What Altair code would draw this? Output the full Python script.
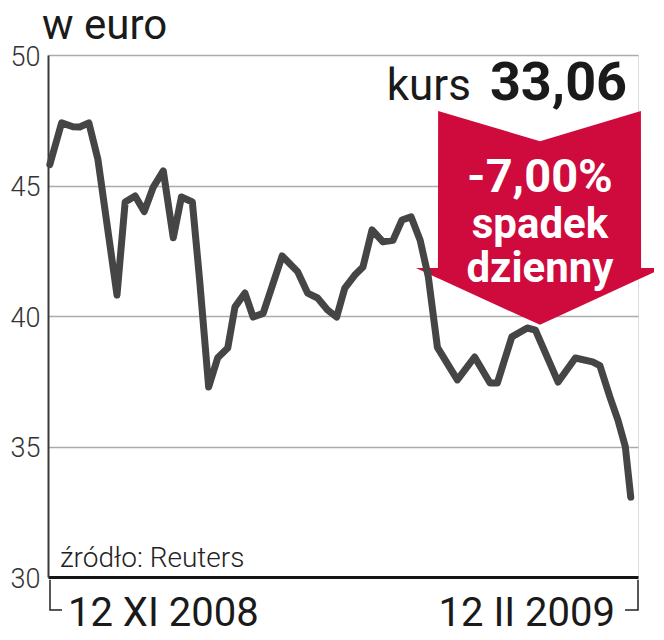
import altair as alt
import pandas as pd

# ---- data ----
sesja = [0.2, 1.5, 2.75, 3.5, 4.5, 5.5, 7.6, 8.5, 9.6, 10.6, 11.6, 12.7, 13.8, 14.7,
         15.9, 16.7, 17.7, 18.7, 19.8, 20.6, 21.7, 22.6, 23.7, 25.8, 27.5, 28.6, 29.7,
         30.8, 31.8, 32.7, 33.8, 34.7, 35.7, 36.9, 38.0, 39.0, 40.0, 41.0, 41.9, 42.9,
         45.1, 47.0, 48.7, 49.5, 51.1, 52.8, 53.7, 56.2, 58.1, 60.0, 60.8, 61.9, 62.8,
         63.6, 64.2]
kurs = [45.8, 47.4, 47.25, 47.24, 47.4, 46.0, 40.8, 44.37, 44.6, 44.0, 44.94, 45.56,
        43.0, 44.56, 44.37, 41.4, 37.28, 38.4, 38.77, 40.35, 40.88, 39.96, 40.1, 42.3,
        41.7, 40.88, 40.69, 40.23, 39.96, 41.07, 41.57, 41.88, 43.3, 42.84, 42.9, 43.68,
        43.8, 42.9, 41.5, 38.8, 37.55, 38.43, 37.43, 37.43, 39.2, 39.54, 39.46, 37.47,
        38.39, 38.24, 38.1, 36.9, 36.0, 35.0, 33.06]

y_domain = [30, 50]

# arrow outline (in chart units)
arrow_x = [40.54, 42.96, 42.98, 54.2, 65.32, 65.34, 67.75]
arrow_top = [41.84, 41.84, 47.85, 46.70, 47.85, 41.84, 41.84]
arrow_bot = [41.84, 41.45, 41.45, 39.66, 41.45, 41.45, 41.84]

# brackets under the time axis
br_id = ["l", "l", "l", "r", "r", "r"]
br_x = [0.22, 0.22, 1.54, 65.0, 65.0, 63.57]
br_y = [29.89, 28.74, 28.74, 29.89, 28.74, 28.74]
br_ord = [0, 1, 2, 0, 1, 2]

RED = "#cf0a3c"
FONT = "Roboto"

xs = alt.Scale(domain=[0, 65], nice=False, zero=False)
ys = alt.Scale(domain=y_domain, nice=False, zero=False)

adf = pd.DataFrame({"x": arrow_x, "top": arrow_top, "bot": arrow_bot})
arrow = alt.Chart(adf).mark_area(color=RED, opacity=1, interpolate="linear").encode(
    x=alt.X("x:Q", scale=xs, title=None),
    y=alt.Y("top:Q", scale=ys, title=None),
    y2="bot:Q",
)

df = pd.DataFrame({"t": sesja, "kurs": kurs})
line = alt.Chart(df).mark_line(
    color="#454545", strokeWidth=7, strokeJoin="round", strokeCap="round"
).encode(
    x=alt.X("t:Q", scale=xs, title=None),
    y=alt.Y("kurs:Q", scale=ys, title=None),
)

bdf = pd.DataFrame({"id": br_id, "x": br_x, "y": br_y, "o": br_ord})
brackets = alt.Chart(bdf).mark_line(color="#222222", strokeWidth=1.5).encode(
    x=alt.X("x:Q", scale=xs, title=None),
    y=alt.Y("y:Q", scale=ys, title=None),
    detail="id:N",
    order="o:Q",
)


def label(txt, x, y, size, weight="normal", color="#1a1a1a", align="left"):
    d = pd.DataFrame({"x": [x], "y": [y], "txt": [txt]})
    return alt.Chart(d).mark_text(
        font=FONT, fontSize=size, fontWeight=weight, color=color,
        align=align, baseline="alphabetic"
    ).encode(
        x=alt.X("x:Q", scale=xs, title=None),
        y=alt.Y("y:Q", scale=ys, title=None),
        text="txt:N",
    )


texts = [
    label("w euro", -0.66, 50.6, 42, color="#1a1a1a"),
    label("kurs", 46.6, 48.28, 44, color="#1a1a1a", align="right"),
    label("33,06", 63.8, 48.28, 54, weight="bold", color="#1a1a1a", align="right"),
    label("-7,00%", 54.2, 44.75, 47, weight="bold", color="white", align="center"),
    label("spadek", 54.2, 43.0, 42, weight="bold", color="white", align="center"),
    label("dzienny", 54.2, 41.3, 42, weight="bold", color="white", align="center"),
    label("źródło: Reuters", 1.32, 30.38, 28, weight=300, color="#222222"),
    label("12 XI 2008", 2.2, 28.12, 40, color="#1a1a1a"),
    label("12 II 2009", 62.47, 28.12, 40, color="#1a1a1a", align="right"),
]

chart = alt.layer(arrow, line, brackets, *texts).properties(
    width=590, height=522,
    autosize=alt.AutoSizeParams(type="none"),
    padding={"left": 40, "top": 47, "right": 16, "bottom": 55},
).configure_view(stroke=None).configure(background="white").configure_axisX(
    labels=False, ticks=False, grid=False, domainColor="#151515", domainWidth=3,
).configure_axisY(
    tickCount=5, grid=True, gridColor="#ababab", gridWidth=1.5,
    domainColor="#3a3a3a", domainWidth=2, ticks=False,
    labelFont=FONT, labelFontWeight=300, labelFontSize=27,
    labelColor="#333333", labelPadding=8, labelOffset=2, labelBaseline="middle",
)

chart.save("out.html", embed_options={"renderer": "svg", "actions": False})
